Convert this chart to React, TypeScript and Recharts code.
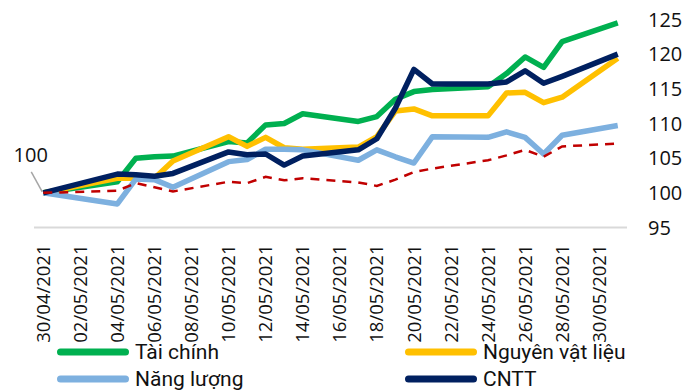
import React from 'react';
import { LineChart, Line, XAxis, YAxis, Legend, LabelList } from 'recharts';

// Trading sessions (dd/mm/yyyy)
const tradingDates = [
  '30/04/2021', '04/05/2021', '05/05/2021', '06/05/2021', '07/05/2021',
  '10/05/2021', '11/05/2021', '12/05/2021', '13/05/2021', '14/05/2021',
  '17/05/2021', '18/05/2021', '19/05/2021', '20/05/2021', '21/05/2021',
  '24/05/2021', '25/05/2021', '26/05/2021', '27/05/2021', '28/05/2021',
  '31/05/2021',
];

// Sector indices, rebased to 100 on 30/04/2021
const taiChinh = [100, 101.6, 105.0, 105.2, 105.3, 107.4, 107.2, 109.8, 110.0, 111.4, 110.3, 111.0, 113.5, 114.6, 114.9, 115.3, 117.2, 119.6, 118.1, 121.8, 124.5];
const nguyenVatLieu = [100, 102.1, 102.1, 102.1, 104.6, 108.1, 106.7, 108.0, 106.5, 106.3, 106.6, 108.1, 111.8, 112.1, 111.1, 111.1, 114.4, 114.5, 113.0, 113.8, 119.4];
const nangLuong = [100, 98.4, 102.0, 101.9, 100.8, 104.5, 104.8, 106.3, 106.3, 106.2, 104.7, 106.2, 105.2, 104.3, 108.1, 108.0, 108.8, 108.0, 105.6, 108.3, 109.7];
const cntt = [100, 102.7, 102.6, 102.4, 102.8, 105.9, 105.5, 105.6, 104.0, 105.3, 106.2, 107.8, 112.2, 117.8, 115.7, 115.7, 116.0, 117.6, 115.8, 116.8, 120.0];
const vnIndex = [100, 100.3, 101.4, 100.8, 100.2, 101.6, 101.4, 102.3, 101.8, 102.1, 101.5, 101.0, 101.9, 103.0, 103.5, 104.7, 105.4, 106.2, 105.2, 106.7, 107.1];

// Axis tick labels
const tickDates = [
  '30/04/2021', '02/05/2021', '04/05/2021', '06/05/2021', '08/05/2021',
  '10/05/2021', '12/05/2021', '14/05/2021', '16/05/2021', '18/05/2021',
  '20/05/2021', '22/05/2021', '24/05/2021', '26/05/2021', '28/05/2021',
  '30/05/2021',
];
const yTicks = [95, 100, 105, 110, 115, 120, 125];

// Legend entries, row by row (two columns)
const legendOrder = ['Tài chính', 'Nguyên vật liệu', 'Năng lượng', 'CNTT'];

const COLORS = {
  taiChinh: '#00b050',
  nguyenVatLieu: '#ffc000',
  nangLuong: '#7db0df',
  cntt: '#002060',
  vnIndex: '#c00000',
};

const DAY_MS = 86400000;
const parseDate = (s: string) => {
  const [d, m, y] = s.split('/').map(Number);
  return Date.UTC(y, m - 1, d);
};
const baseTime = parseDate(tradingDates[0]);
const toDay = (s: string) => Math.round((parseDate(s) - baseTime) / DAY_MS);

const data = tradingDates.map((d, i) => ({
  day: toDay(d),
  date: d,
  taiChinh: taiChinh[i],
  nguyenVatLieu: nguyenVatLieu[i],
  nangLuong: nangLuong[i],
  cntt: cntt[i],
  vnIndex: vnIndex[i],
}));

const tickDays = tickDates.map(toDay);
const labelByDay: Record<number, string> = {};
tickDates.forEach((d) => { labelByDay[toDay(d)] = d; });
const lastDay = toDay(tradingDates[tradingDates.length - 1]);

const AXIS_FONT = "'Open Sans', 'Noto Sans', sans-serif";
const LEGEND_FONT = "Roboto, 'Noto Sans', sans-serif";

const DateTick = (props: any) => {
  const { x, y, payload } = props;
  return (
    <text
      x={x}
      y={y}
      transform={`rotate(-90, ${x}, ${y})`}
      textAnchor="end"
      dy="0.36em"
      fontFamily={AXIS_FONT}
      fontSize={18.5}
      fill="#111"
    >
      {labelByDay[payload.value]}
    </text>
  );
};

// Callout for the common starting value
const StartLabel = (props: any) => {
  const { index, value } = props;
  const x = props.x ?? props.viewBox?.x;
  const y = props.y ?? props.viewBox?.y;
  if (index !== 0 || x == null || y == null) return null;
  return (
    <g>
      <line x1={x - 12} y1={y - 21} x2={x - 1} y2={y - 1} stroke="#a6a6a6" strokeWidth={1.5} />
      <text x={x - 12.5} y={y - 31} textAnchor="middle" fontFamily={AXIS_FONT} fontSize={20} fill="#111">
        {value}
      </text>
    </g>
  );
};

const LegendContent = (props: any) => {
  const payload = (props.payload || [])
    .filter((p: any) => p.type !== 'none')
    .slice()
    .sort((a: any, b: any) => legendOrder.indexOf(a.value) - legendOrder.indexOf(b.value));
  return (
    <div style={{ display: 'grid', gridTemplateColumns: '348px 280px', gridAutoRows: '27px' }}>
      {payload.map((p: any) => (
        <div key={p.value} style={{ display: 'flex', alignItems: 'center', height: 27 }}>
          <svg width={80} height={10} style={{ display: 'block' }}>
            <line x1={7.5} x2={72.5} y1={5} y2={5} stroke={p.color} strokeWidth={7} strokeLinecap="round" />
          </svg>
          <span style={{ marginLeft: 2, fontFamily: LEGEND_FONT, fontSize: 21, color: '#111', lineHeight: '27px', whiteSpace: 'nowrap' }}>
            {p.value}
          </span>
        </div>
      ))}
    </div>
  );
};

export default function App() {
  return (
    <div style={{ position: 'absolute', left: 0, top: 0, width: 698, height: 392, background: '#fff' }}>
      <LineChart width={698} height={392} data={data} margin={{ top: 19.5, right: 0, left: 34, bottom: 0 }}>
        <XAxis
          dataKey="day"
          type="number"
          domain={[-0.5, lastDay + 0.5]}
          ticks={tickDays}
          interval={0}
          height={164.5}
          axisLine={{ stroke: '#d9d9d9', strokeWidth: 2 }}
          tickLine={false}
          tickSize={0}
          tickMargin={17}
          tick={<DateTick />}
        />
        <YAxis
          orientation="right"
          domain={[95, 125]}
          ticks={yTicks}
          interval={0}
          width={71}
          axisLine={false}
          tickLine={false}
          tickSize={0}
          tickMargin={21}
          tick={{ fontFamily: AXIS_FONT, fontSize: 20, fill: '#111' }}
        />
        <Legend
          layout="horizontal"
          verticalAlign="middle"
          align="center"
          wrapperStyle={{ left: 53, top: 338.5, width: 640, height: 54 }}
          content={<LegendContent />}
        />
        <Line type="linear" dataKey="taiChinh" name="Tài chính" stroke={COLORS.taiChinh} strokeWidth={5.5} strokeLinejoin="round" dot={false} activeDot={false} isAnimationActive={false} />
        <Line type="linear" dataKey="nguyenVatLieu" name="Nguyên vật liệu" stroke={COLORS.nguyenVatLieu} strokeWidth={5.5} strokeLinejoin="round" dot={false} activeDot={false} isAnimationActive={false} />
        <Line type="linear" dataKey="nangLuong" name="Năng lượng" stroke={COLORS.nangLuong} strokeWidth={5.5} strokeLinejoin="round" dot={false} activeDot={false} isAnimationActive={false} />
        <Line type="linear" dataKey="cntt" name="CNTT" stroke={COLORS.cntt} strokeWidth={5.5} strokeLinejoin="round" dot={false} activeDot={false} isAnimationActive={false}>
          <LabelList dataKey="cntt" content={<StartLabel />} />
        </Line>
        <Line type="linear" dataKey="vnIndex" name="VN-Index" legendType="none" stroke={COLORS.vnIndex} strokeWidth={2.5} strokeDasharray="9 7" dot={false} activeDot={false} isAnimationActive={false} />
      </LineChart>
    </div>
  );
}
